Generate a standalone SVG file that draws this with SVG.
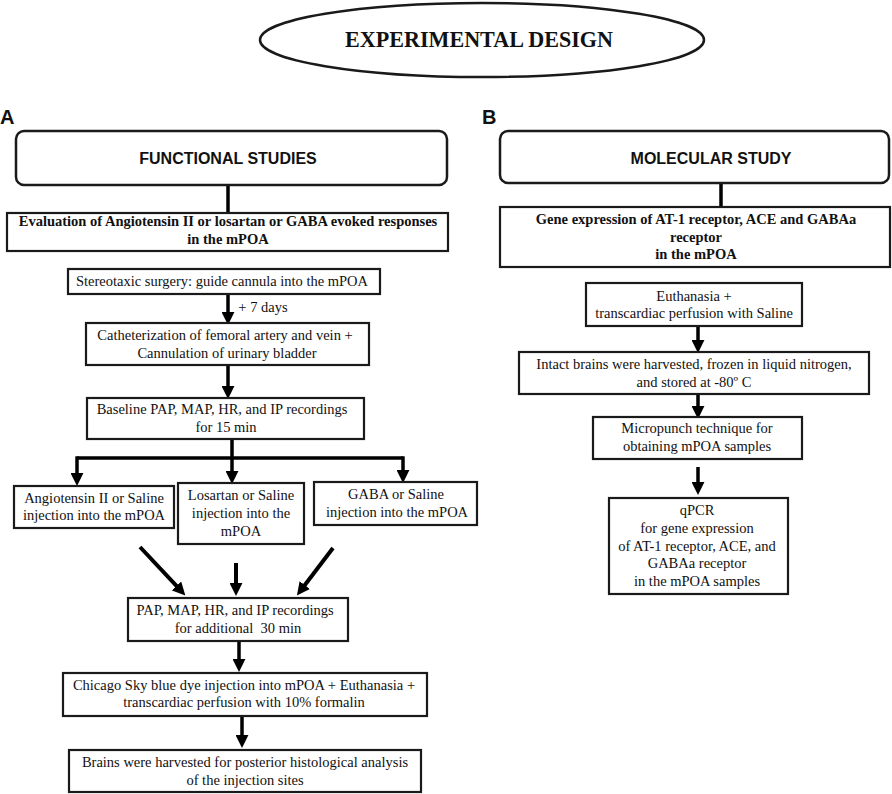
<svg xmlns="http://www.w3.org/2000/svg" width="892" height="794" viewBox="0 0 892 794">
<defs>
<marker id="ah" viewBox="0 0 12 12" refX="1" refY="6" markerWidth="13" markerHeight="13" markerUnits="userSpaceOnUse" orient="auto">
<path d="M0,0 L12,6 L0,12 z" fill="#000"/>
</marker>
<style>
.box{fill:#fff;stroke:#1a1a1a;stroke-width:2.2}
.rbox{fill:#fff;stroke:#1a1a1a;stroke-width:2.5}
.t{font-family:"Liberation Serif","Times New Roman",serif;font-size:14.5px;fill:#111;text-anchor:middle}
.tb{font-family:"Liberation Serif","Times New Roman",serif;font-size:14.5px;font-weight:bold;fill:#111;text-anchor:middle}
.hs{font-family:"Liberation Sans",Arial,sans-serif;font-size:16px;font-weight:bold;fill:#111;text-anchor:middle}
.lbl{font-family:"Liberation Sans",Arial,sans-serif;font-size:20px;font-weight:bold;fill:#111}
.ln{stroke:#000;stroke-width:3.5;fill:none}
.ar{stroke:#000;stroke-width:3.5;fill:none;marker-end:url(#ah)}
.ard{stroke:#000;stroke-width:4;fill:none;marker-end:url(#ah)}
</style>
</defs>
<rect width="892" height="794" fill="#fff"/>

<g id="title">
<ellipse cx="482" cy="40" rx="222" ry="37" fill="#fff" stroke="#1a1a1a" stroke-width="2.5"/>
<text x="479" y="47" font-family="Liberation Serif,Times New Roman,serif" font-size="23" font-weight="bold" text-anchor="middle" fill="#111" textLength="268" lengthAdjust="spacingAndGlyphs">EXPERIMENTAL DESIGN</text>
</g>

<g id="labelA"><text class="lbl" x="0" y="124">A</text></g>
<g id="labelB"><text class="lbl" x="482" y="124">B</text></g>

<g id="connectors">
<line class="ln" x1="228" y1="185" x2="228" y2="213"/>
<line class="ar" x1="228" y1="294" x2="228" y2="313"/>
<line class="ar" x1="228" y1="365" x2="228" y2="387"/>
<line class="ln" x1="77" y1="458" x2="403" y2="458"/>
<line class="ar" x1="232" y1="439" x2="232" y2="472"/>
<line class="ar" x1="77" y1="456.3" x2="77" y2="474"/>
<line class="ar" x1="403" y1="456.3" x2="403" y2="471"/>
<line class="ard" x1="140" y1="547" x2="177.2" y2="586.7"/>
<line class="ard" x1="236" y1="563" x2="236" y2="584"/>
<line class="ard" x1="333" y1="548" x2="304.1" y2="586"/>
<line class="ar" x1="239" y1="641" x2="239" y2="660"/>
<line class="ar" x1="242" y1="716" x2="242" y2="736"/>
<line class="ln" x1="721" y1="183" x2="721" y2="207"/>
<line class="ar" x1="698" y1="326" x2="698" y2="341"/>
<line class="ar" x1="698" y1="394" x2="698" y2="407"/>
<line class="ar" x1="698" y1="467" x2="698" y2="483"/>
<text class="t" x="263" y="312">+ 7 days</text>
</g>

<g id="functional">
<rect class="rbox" x="16" y="131" width="431" height="54" rx="8"/>
<text class="hs" x="228" y="164">FUNCTIONAL STUDIES</text>
</g>

<g id="molecular">
<rect class="rbox" x="500" y="131" width="389" height="52" rx="8"/>
<text class="hs" x="711" y="164">MOLECULAR STUDY</text>
</g>

<g id="evaluation">
<rect class="box" x="7" y="213" width="441" height="38"/>
<text class="tb" x="228" y="226">Evaluation of Angiotensin II or losartan or GABA evoked responses</text>
<text class="tb" x="228" y="244">in the mPOA</text>
</g>

<g id="stereotaxic">
<rect class="box" x="68" y="269" width="312" height="25"/>
<text class="t" x="222" y="286">Stereotaxic surgery: guide cannula into the mPOA</text>
</g>

<g id="catheterization">
<rect class="box" x="86" y="323" width="283" height="42"/>
<text class="t" x="225" y="340">Catheterization of femoral artery and vein +</text>
<text class="t" x="227" y="358">Cannulation of urinary bladder</text>
</g>

<g id="baseline">
<rect class="box" x="87" y="398" width="277" height="41"/>
<text class="t" x="222" y="414">Baseline PAP, MAP, HR, and IP recordings</text>
<text class="t" x="226" y="432">for 15 min</text>
</g>

<g id="angiotensin">
<rect class="box" x="14" y="486" width="160" height="42"/>
<text class="t" x="94" y="503">Angiotensin II or Saline</text>
<text class="t" x="94" y="520">injection into the mPOA</text>
</g>

<g id="losartan">
<rect class="box" x="178" y="483" width="126" height="61"/>
<text class="t" x="241" y="500">Losartan or Saline</text>
<text class="t" x="241" y="518">injection into the</text>
<text class="t" x="241" y="536">mPOA</text>
</g>

<g id="gaba">
<rect class="box" x="314" y="482" width="163" height="43"/>
<text class="t" x="396" y="499">GABA or Saline</text>
<text class="t" x="397" y="517">injection into the mPOA</text>
</g>

<g id="recordings">
<rect class="box" x="128" y="598" width="220" height="43"/>
<text class="t" x="235" y="615">PAP, MAP, HR, and IP recordings</text>
<text class="t" x="238" y="633" xml:space="preserve">for additional  30 min</text>
</g>

<g id="chicago">
<rect class="box" x="63" y="673" width="364" height="43"/>
<text class="t" x="244" y="690">Chicago Sky blue dye injection into mPOA + Euthanasia +</text>
<text class="t" x="244" y="707">transcardiac perfusion with 10% formalin</text>
</g>

<g id="brains">
<rect class="box" x="69" y="750" width="352" height="42"/>
<text class="t" x="245" y="767">Brains were harvested for posterior histological analysis</text>
<text class="t" x="245" y="785">of the injection sites</text>
</g>

<g id="gene">
<rect class="box" x="500" y="207" width="390" height="60"/>
<text class="tb" x="696" y="224">Gene expression of AT-1 receptor, ACE and GABAa</text>
<text class="tb" x="696" y="242">receptor</text>
<text class="tb" x="696" y="259">in the mPOA</text>
</g>

<g id="euthanasia">
<rect class="box" x="586" y="283" width="216" height="43"/>
<text class="t" x="694" y="301">Euthanasia +</text>
<text class="t" x="694" y="318">transcardiac perfusion with Saline</text>
</g>

<g id="intact">
<rect class="box" x="519" y="352" width="350" height="42"/>
<text class="t" x="694" y="369">Intact brains were harvested, frozen in liquid nitrogen,</text>
<text class="t" x="694" y="387">and stored at -80º C</text>
</g>

<g id="micropunch">
<rect class="box" x="593" y="417" width="209" height="42"/>
<text class="t" x="697" y="433">Micropunch technique for</text>
<text class="t" x="697" y="451">obtaining mPOA samples</text>
</g>

<g id="qpcr">
<rect class="box" x="609" y="498" width="179" height="96"/>
<text class="t" x="697" y="515">qPCR</text>
<text class="t" x="697" y="533">for gene expression</text>
<text class="t" x="697" y="551">of AT-1 receptor, ACE, and</text>
<text class="t" x="697" y="568">GABAa receptor</text>
<text class="t" x="697" y="586">in the mPOA samples</text>
</g>
</svg>
